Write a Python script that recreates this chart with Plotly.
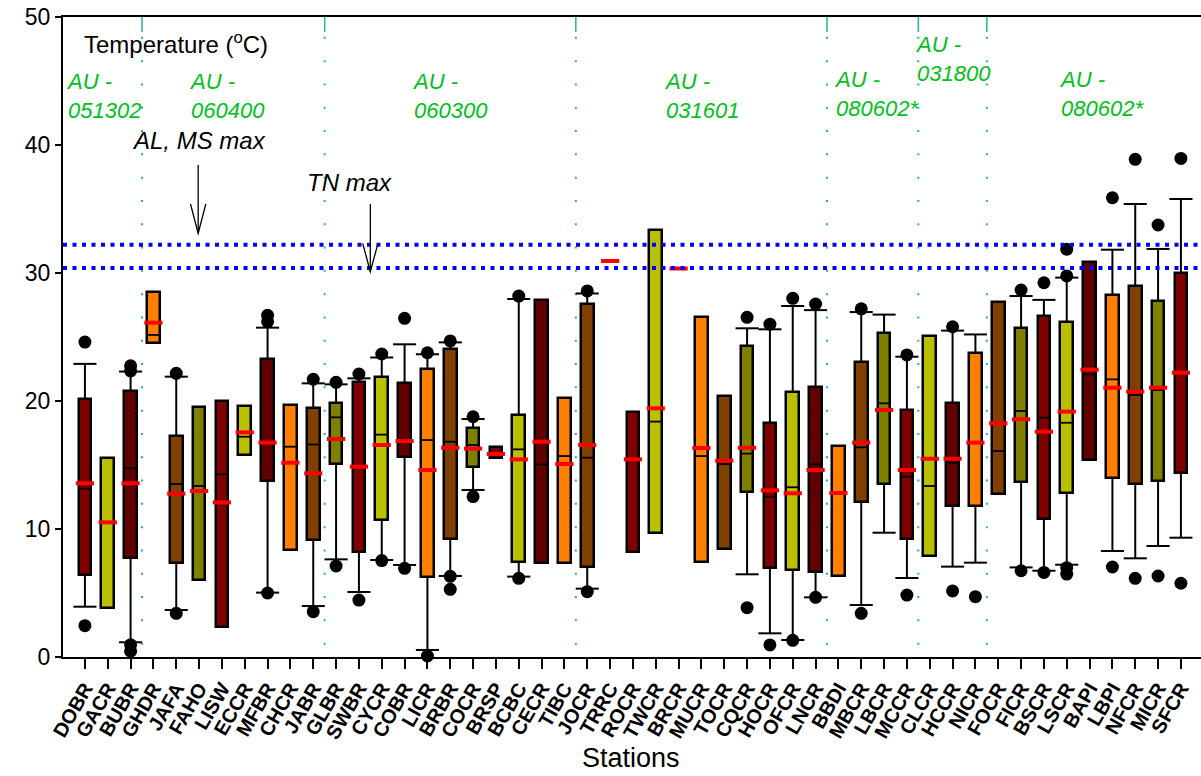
import plotly.graph_objects as go

# ---------------- data ----------------
stations = ["DOBR", "GACR", "BUBR", "GHDR", "JAFA", "FAHO", "LISW", "ECCR", "MFBR", "CHCR",
            "JABR", "GLBR", "SWBR", "CYCR", "COBR", "LICR", "BRBR", "COCR", "BRSP", "BCBC",
            "CECR", "TIBC", "JOCR", "TRRC", "ROCR", "TWCR", "BRCR", "MUCR", "TOCR", "CQCR",
            "HOCR", "OFCR", "LNCR", "BBDI", "MBCR", "LBCR", "MCCR", "CLCR", "HCCR", "NICR",
            "FOCR", "FICR", "BSCR", "LSCR", "BAPI", "LBPI", "NFCR", "MICR", "SFCR"]

q1 = [6.4, 3.8, 7.71, 24.5, 7.37, 6.02, 2.37, 15.78, 13.78, 8.36,
      9.14, 15.08, 8.18, 10.7, 15.65, 6.28, 9.19, 14.82, 15.52, 7.4,
      7.37, 7.37, 7.06, None, 8.23, 9.66, None, 7.45, 8.44, 12.86,
      6.93, 6.8, 6.61, 6.33, 12.11, 13.52, 9.19, 7.92, 11.82, 11.82,
      12.73, 13.65, 10.76, 12.79, 15.39, 14.01, 13.49, 13.78, 14.35]

median = [13.15, 10.5, 14.74, 25.16, 13.52, 13.36, 14.27, 17.21, 16.75, 16.43,
          16.6, 18.72, 14.87, 17.37, 16.87, 16.95, 16.82, 16.56, 15.86, 16.22,
          15.05, 15.7, 15.57, None, 15.44, 18.39, None, 15.7, 15.08, 15.89,
          12.53, 13.26, 15.05, 12.81, 16.38, 19.82, 14.09, 13.36, 15.18, 16.75,
          16.09, 19.22, 18.7, 18.3, 22.08, 21.69, 20.47, 20.86, 22.21]

q3 = [20.13, 15.55, 20.78, 28.54, 17.29, 19.53, 20.0, 19.61, 23.3, 19.69,
      19.43, 19.82, 21.51, 21.9, 21.43, 22.47, 24.04, 17.86, 16.38, 18.9,
      27.9, 20.21, 27.6, None, 19.11, 33.36, None, 26.59, 20.42, 24.32,
      18.3, 20.73, 21.07, 16.48, 23.02, 25.34, 19.3, 25.08, 19.82, 23.72,
      27.76, 25.68, 26.64, 26.2, 30.88, 28.28, 28.98, 27.81, 30.03]

mean = [13.57, 10.52, 13.57, 26.12, 12.76, 12.97, 12.08, 17.55, 16.75, 15.18,
        14.35, 17.03, 14.87, 16.56, 16.87, 14.61, 16.35, 16.28, 15.86, 15.44,
        16.82, 15.08, 16.56, 30.94, 15.44, 19.43, 30.35, 16.33, 15.34, 16.35,
        13.02, 12.79, 14.61, 12.81, 16.75, 19.3, 14.61, 15.49, 15.49, 16.75,
        18.26, 18.57, 17.6, 19.17, 22.45, 21.04, 20.73, 21.04, 22.21]

whisker_lo = [3.93, None, 1.15, None, 3.67, None, None, None, 5.03, None,
              3.98, 7.63, 5.08, 7.58, 7.19, 0.55, 6.33, 13.05, None, 6.28,
              None, None, 5.34, None, None, None, None, None, None, 6.46,
              1.85, 1.33, 4.66, None, 4.06, 9.71, 6.17, None, 7.06, 7.37,
              None, 7.0, 6.74, 7.21, None, 8.28, 7.71, 8.67, 9.32]

whisker_hi = [22.9, None, 22.3, None, 21.9, None, None, None, 25.73, None,
              21.38, 21.3, 21.77, 23.4, 24.43, 23.65, 24.58, 18.59, None, 27.97,
              None, None, 28.4, None, None, None, None, None, None, 25.68,
              25.6, 27.42, 27.1, None, 26.95, 26.75, 23.46, None, 25.5, 25.2,
              None, 28.2, 27.9, 29.64, None, 31.82, 35.39, 31.88, 35.78]

outliers = [[24.6, 2.45], [], [22.75, 22.35, 0.95, 0.45], [], [22.16, 3.41], [], [], [], [26.7, 26.2, 5.0], [],
            [21.7, 3.54], [21.46, 7.11], [22.1, 4.45], [23.67, 7.53], [26.46, 6.93], [23.77, 0.08],
            [24.69, 6.3, 5.29], [18.77, 12.53], [], [28.2, 6.15],
            [], [], [28.6, 5.1], [], [], [], [], [], [], [26.54, 3.85],
            [26.0, 0.94], [28.02, 1.3], [27.58, 4.66], [], [27.2, 3.41], [], [23.6, 4.84], [], [25.8, 5.16], [4.71],
            [], [28.67, 6.74], [29.24, 6.61], [31.85, 29.77, 6.98, 6.48], [], [35.88, 7.03], [38.88, 6.15],
            [33.75, 6.33], [38.95, 5.76]]

palette = ["#800000", "#b8c000", "#600000", "#ff8000", "#804000", "#808000"]

group_bounds = [2.5, 10.5, 21.5, 32.5, 36.5, 39.5]
group_labels = ["AU -<br>051302", "AU -<br>060400", "AU -<br>060300", "AU -<br>031601",
                "AU -<br>080602*", "AU -<br>031800", "AU -<br>080602*"]
group_label_x = [-0.80, 4.6, 14.35, 25.4, 32.85, 36.4, 42.7]
group_label_y = [43.8, 43.8, 43.8, 43.8, 44.0, 46.7, 44.0]

limit_lines = [32.2, 30.4]
limit_labels = ["AL, MS max", "TN max"]
limit_label_x = [2.09, 9.78]
limit_label_y = [40.39, 37.1]
arrow_x = [4.96, 12.5]
arrow_top = [38.44, 35.39]
arrow_tip = [33.1, 30.1]
arrow_head = [35.39, 32.32]

# ---------------- figure ----------------
n = len(stations)
xs = list(range(n))
colors = [palette[i % len(palette)] for i in xs]

fig = go.Figure()

heights = [None if a is None else b - a for a, b in zip(q1, q3)]
fig.add_trace(go.Bar(
    x=xs, base=q1, y=heights, width=0.55,
    marker=dict(color=colors, line=dict(color="black", width=2.5)),
    showlegend=False, hoverinfo="skip"))

# whiskers
wx, wy = [], []
cx, cy = [], []
for i in xs:
    if whisker_lo[i] is not None:
        wx += [i, i, None, i, i, None]
        wy += [q3[i], whisker_hi[i], None, q1[i], whisker_lo[i], None]
        cx += [i, i]
        cy += [whisker_hi[i], whisker_lo[i]]
fig.add_trace(go.Scatter(x=wx, y=wy, mode="lines", line=dict(color="black", width=2),
                         showlegend=False, hoverinfo="skip"))
fig.add_trace(go.Scatter(x=cx, y=cy, mode="markers",
                         marker=dict(symbol="line-ew", size=16.5, color="black",
                                     line=dict(color="black", width=2)),
                         showlegend=False, hoverinfo="skip"))

# medians
fig.add_trace(go.Scatter(x=xs, y=median, mode="markers",
                         marker=dict(symbol="line-ew", size=9, color="black",
                                     line=dict(color="black", width=1.8)),
                         showlegend=False, hoverinfo="skip"))
# means
fig.add_trace(go.Scatter(x=xs, y=mean, mode="markers",
                         marker=dict(symbol="line-ew", size=13, color="#ff0000",
                                     line=dict(color="#ff0000", width=4)),
                         showlegend=False, hoverinfo="skip"))
# outliers
ox, oy = [], []
for i, vals in enumerate(outliers):
    for v in vals:
        ox.append(i)
        oy.append(v)
fig.add_trace(go.Scatter(x=ox, y=oy, mode="markers", cliponaxis=False,
                         marker=dict(symbol="circle", size=13, color="black"),
                         showlegend=False, hoverinfo="skip"))

shapes = []
for b in group_bounds:
    shapes.append(dict(type="line", xref="x", yref="y", x0=b, x1=b, y0=50, y1=48.83,
                       line=dict(color="#20b898", width=1.5), layer="below"))
    shapes.append(dict(type="line", xref="x", yref="y", x0=b, x1=b, y0=48.45, y1=0,
                       line=dict(color="#20b898", width=2, dash="2px,21.3px"), layer="below"))
for v in limit_lines:
    shapes.append(dict(type="line", xref="paper", yref="y", x0=0, x1=1, y0=v, y1=v,
                       line=dict(color="#0000ff", width=4, dash="4px,5.5px"), layer="above"))
for ax_, top, tip, hd in zip(arrow_x, arrow_top, arrow_tip, arrow_head):
    shapes.append(dict(type="line", xref="x", yref="y", x0=ax_, x1=ax_, y0=top, y1=tip,
                       line=dict(color="black", width=1.3)))
    shapes.append(dict(type="path", xref="x", yref="y",
                       path=f"M {ax_-0.335},{hd} L {ax_},{tip} L {ax_+0.335},{hd}",
                       line=dict(color="black", width=1.3)))

annotations = []
for t, gx, gy in zip(group_labels, group_label_x, group_label_y):
    annotations.append(dict(text=t, x=gx, y=gy, xref="x", yref="y", xanchor="left",
                            yanchor="middle", align="left", showarrow=False, xshift=-3,
                            font=dict(family="Liberation Sans, Arial", size=22,
                                      color="#00c020", style="italic")))
for t, lx, ly in zip(limit_labels, limit_label_x, limit_label_y):
    annotations.append(dict(text=t, x=lx, y=ly, xref="x", yref="y", xanchor="left",
                            yanchor="middle", showarrow=False, xshift=-3,
                            font=dict(family="Liberation Sans, Arial", size=24,
                                      color="black", style="italic")))
annotations.append(dict(text="Temperature (<sup>o</sup>C)", x=0.0193, y=47.97, xref="paper",
                        yref="y", xanchor="left", yanchor="middle", showarrow=False, xshift=-3,
                        font=dict(family="Liberation Sans, Arial", size=24, color="black")))
annotations.append(dict(text="Stations", x=0.499, y=-0.158, xref="paper", yref="paper",
                        xanchor="center", yanchor="middle", showarrow=False,
                        font=dict(family="Liberation Sans, Arial", size=27, color="black")))

fig.update_layout(
    width=1201, height=776,
    margin=dict(l=63, r=0, t=17, b=119),
    paper_bgcolor="white", plot_bgcolor="white",
    shapes=shapes, annotations=annotations,
    bargap=0, showlegend=False,
    font=dict(family="Liberation Sans, Arial", color="black"),
)
fig.update_xaxes(range=[-0.96, 48.88], tickmode="array", tickvals=xs, ticktext=stations,
                 tickangle=-60, ticks="outside", ticklen=10, tickwidth=1.5, tickcolor="black",
                 showline=True, linewidth=2, linecolor="black", mirror=True,
                 showgrid=False, zeroline=False,
                 tickfont=dict(family="Liberation Sans, Arial", size=20, weight="bold",
                               color="black"))
fig.update_yaxes(range=[0, 50], tickmode="array", tickvals=[0, 10, 20, 30, 40, 50],
                 ticks="outside", ticklen=6, tickwidth=1.5, tickcolor="black",
                 showline=True, linewidth=2, linecolor="black",
                 showgrid=False, zeroline=False,
                 tickfont=dict(family="Liberation Sans, Arial", size=23, color="black"))

fig.write_html("out.html")
